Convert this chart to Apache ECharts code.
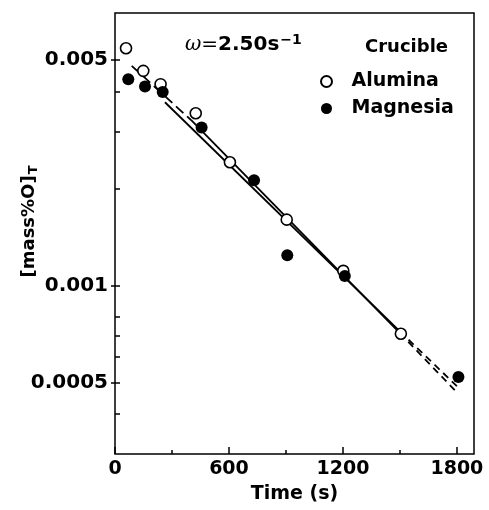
<!DOCTYPE html>
<html><head><meta charset="utf-8">
<script src="https://cdn.jsdelivr.net/npm/echarts@6/dist/echarts.min.js"></script>
<style>html,body{margin:0;padding:0;background:#fff}#c{width:489px;height:510px}</style>
</head><body><div id="c"></div>
<script>
// ---- data ----
const aluminaTime = [58, 149, 240, 425, 605, 904, 1202, 1505];
const aluminaO    = [0.00544, 0.00463, 0.00421, 0.00342, 0.00241, 0.00160, 0.00111, 0.000708];
const magnesiaTime = [70, 158, 251, 456, 732, 907, 1210, 1808];
const magnesiaO    = [0.00436, 0.00414, 0.00398, 0.00309, 0.00212, 0.00124, 0.00107, 0.00052];
// fitted lines (segments: dashed / solid / dashed)
const aluminaFitTime = [88, 400, 1500, 1800];
const aluminaFitO    = [0.0048, 0.00326, 0.000711, 0.000466];
const magnesiaFitTime = [263, 1500, 1800];
const magnesiaFitO    = [0.0037, 0.00072, 0.000487];
// axes
const xLabelValues = [0, 600, 1200, 1800];
const xMinorTickValues = [300, 900, 1500];
const yLabelValues = [0.0005, 0.001, 0.005];
const yTickValues = [0.0004, 0.0005, 0.0006, 0.0007, 0.0008, 0.001, 0.002, 0.003, 0.004, 0.005];

const FONT = 'DejaVu Sans';
const BLACK = '#000';
function pairs(t, v, i0, i1) {
  const out = [];
  for (let i = i0; i <= i1; i++) out.push([t[i], v[i]]);
  return out;
}
function fitSeries(t, v, i0, i1, dash) {
  return {
    type: 'line', data: pairs(t, v, i0, i1), symbol: 'none', silent: true, z: 2,
    lineStyle: { color: BLACK, width: 1.8, type: dash || 'solid' },
    animation: false
  };
}
const tickStyle = { color: BLACK, width: 1.5 };
const chart = echarts.init(document.getElementById('c'), null, { renderer: 'canvas' });
chart.setOption({
  animation: false,
  backgroundColor: '#fff',
  grid: { left: 115, right: 15, top: 13, bottom: 56, containLabel: false, outerBoundsMode: 'none',
          show: true, borderColor: BLACK, borderWidth: 1.5, backgroundColor: 'transparent' },
  xAxis: [
    {
      type: 'value', min: 0, max: 1890,
      axisLine: { show: false },
      axisTick: { show: true, inside: true, length: 7, customValues: xLabelValues, lineStyle: tickStyle },
      axisLabel: { customValues: xLabelValues, margin: 6, fontFamily: FONT, fontWeight: 'bold', fontSize: 19, color: BLACK,
                   formatter: v => String(v) },
      splitLine: { show: false },
      name: 'Time (s)', nameLocation: 'middle', nameGap: 31, nameMoveOverlap: false,
      nameTextStyle: { fontFamily: FONT, fontWeight: 'bold', fontSize: 19, color: BLACK }
    },
    {
      type: 'value', min: 0, max: 1890, position: 'bottom',
      axisLine: { show: false },
      axisTick: { show: true, inside: true, length: 4, customValues: xMinorTickValues, lineStyle: tickStyle },
      axisLabel: { show: false }, splitLine: { show: false }
    }
  ],
  yAxis: [
    {
      type: 'log', logBase: 10, min: 0.0003, max: 0.007,
      axisLine: { show: false },
      axisTick: { show: true, inside: false, length: 4, customValues: yLabelValues, lineStyle: tickStyle },
      axisLabel: {
        customValues: yLabelValues, margin: 7, fontFamily: FONT, fontWeight: 'bold', fontSize: 20, color: BLACK,
        formatter: v => String(+Number(v).toPrecision(3))
      },
      splitLine: { show: false }, minorTick: { show: false },
      name: '{m|[mass%O]}{s|T}', nameLocation: 'middle', nameGap: 75, nameRotate: 90, nameMoveOverlap: false,
      nameTextStyle: {
        padding: [0, 0, 0, 24],
        rich: {
          m: { fontFamily: FONT, fontWeight: 'bold', fontSize: 18, color: BLACK, lineHeight: 20, verticalAlign: 'top' },
          s: { fontFamily: FONT, fontWeight: 'bold', fontSize: 13, color: BLACK, lineHeight: 13, padding: [9, 0, 0, 1], verticalAlign: 'bottom' }
        }
      }
    },
    {
      type: 'log', logBase: 10, min: 0.0003, max: 0.007, position: 'left',
      axisLine: { show: false },
      axisTick: { show: true, inside: true, length: 5, customValues: yTickValues, lineStyle: tickStyle },
      axisLabel: { show: false }, splitLine: { show: false }
    }
  ],
  legend: {
    data: ['Alumina', 'Magnesia'], orient: 'vertical', left: 315, top: 67,
    itemWidth: 40, itemHeight: 11, itemGap: 8, selectedMode: false,
    textStyle: { fontFamily: FONT, fontWeight: 'bold', fontSize: 19, color: BLACK }
  },
  graphic: [
    { type: 'text', left: 365, top: 38, style: { text: 'Crucible', fontFamily: FONT, fontWeight: 'bold', fontSize: 18, fill: BLACK } },
    {
      type: 'text', left: 185, top: 33,
      style: {
        text: '{w|ω}{e|=}{b|2.50s}{p|−1}',
        rich: {
          w: { fontFamily: 'DejaVu Serif', fontStyle: 'italic', fontSize: 20, fill: BLACK, lineHeight: 22, verticalAlign: 'bottom' },
          e: { fontFamily: FONT, fontSize: 20, fill: BLACK, lineHeight: 22, verticalAlign: 'bottom' },
          b: { fontFamily: FONT, fontWeight: 'bold', fontSize: 20, fill: BLACK, lineHeight: 22, verticalAlign: 'bottom' },
          p: { fontFamily: FONT, fontWeight: 'bold', fontSize: 14, fill: BLACK, lineHeight: 14, padding: [0, 0, 9, 1], verticalAlign: 'top' }
        }
      }
    }
  ],
  series: [
    fitSeries(aluminaFitTime, aluminaFitO, 0, 1, [10, 5]),
    fitSeries(aluminaFitTime, aluminaFitO, 1, 2, null),
    fitSeries(aluminaFitTime, aluminaFitO, 2, 3, [7, 5]),
    fitSeries(magnesiaFitTime, magnesiaFitO, 0, 1, null),
    fitSeries(magnesiaFitTime, magnesiaFitO, 1, 2, [7, 5]),
    {
      name: 'Alumina', type: 'scatter', z: 5, symbol: 'circle', symbolSize: 11,
      data: pairs(aluminaTime, aluminaO, 0, aluminaTime.length - 1),
      itemStyle: { color: '#fff', borderColor: BLACK, borderWidth: 1.6, opacity: 1 }
    },
    {
      name: 'Magnesia', type: 'scatter', z: 5, symbol: 'circle', symbolSize: 12,
      data: pairs(magnesiaTime, magnesiaO, 0, magnesiaTime.length - 1),
      itemStyle: { color: BLACK, opacity: 1 }
    }
  ]
});
</script></body></html>
